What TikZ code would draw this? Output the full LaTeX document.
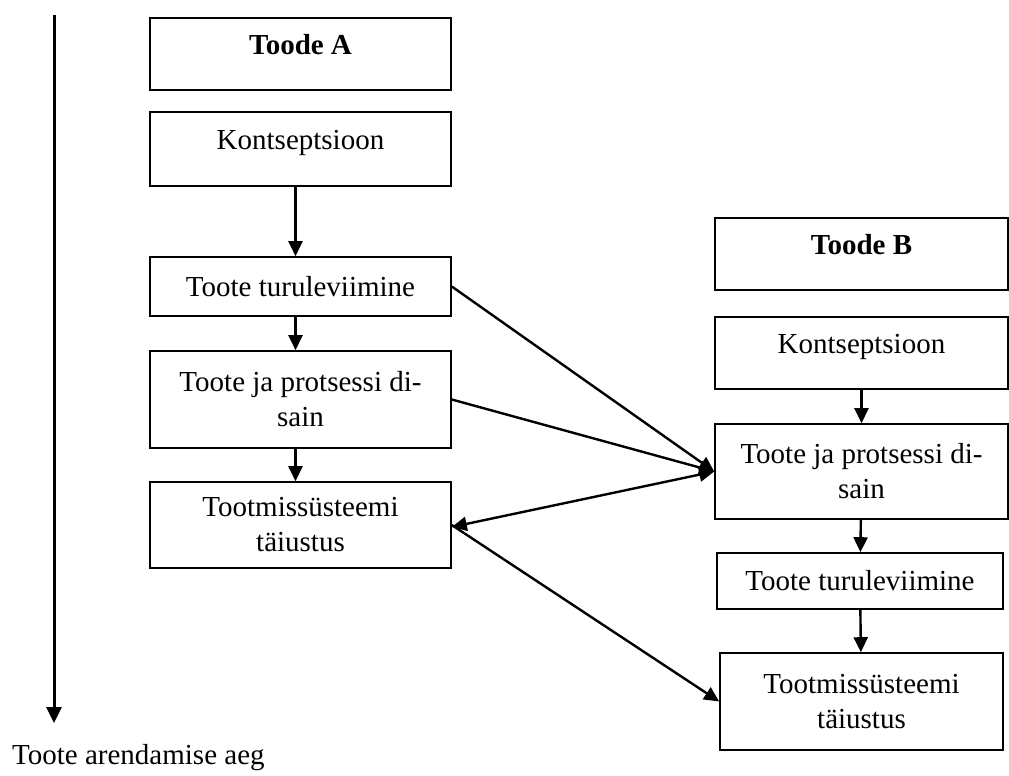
\documentclass[tikz,border=0pt]{standalone}
\usepackage{fontspec}
\setmainfont{Liberation Serif}
\usetikzlibrary{arrows.meta}

\begin{document}
\begin{tikzpicture}[x=1pt,y=-1pt,
  box/.style={draw,line width=1.6pt,minimum width=301pt,inner sep=0pt,
    align=center,font=\fontsize{29}{35}\selectfont},
  upper/.style={text height=20pt,text depth=19pt},
  link/.style={line width=2.4pt,-{Triangle[length=15pt,width=14pt]}}]
  \useasboundingbox (0,0) rectangle (1009,776);

  % time axis
  \coordinate (t0) at (54,15);
  \coordinate (t1) at (54,723);
  \draw[line width=3pt,-{Triangle[length=16pt,width=15pt]}] (t0) -- (t1);
  \node[anchor=west,inner sep=0pt,font=\fontsize{29}{35}\selectfont] (aeg) at (12,758) {Toote arendamise aeg};

  % Toode A
  \node[box,upper,minimum height=72pt] (tA) at (300.5,54) {\textbf{Toode A}};
  \node[box,upper,minimum height=74pt] (kA) at (300.5,149) {Kontseptsioon};
  \node[box,minimum height=59pt] (tuA) at (300.5,286.5) {Toote turuleviimine};
  \node[box,minimum height=97pt] (dA) at (300.5,399.5) {Toote ja protsessi di-\\sain};
  \node[box,minimum height=86pt] (pA) at (300.5,525) {Tootmissüsteemi\\täiustus};

  % Toode B
  \node[box,upper,minimum width=293pt,minimum height=72pt] (tB) at (861.5,254) {\textbf{Toode B}};
  \node[box,upper,minimum width=293pt,minimum height=72pt] (kB) at (861.5,353) {Kontseptsioon};
  \node[box,minimum width=293pt,minimum height=95pt] (dB) at (861.5,471.5) {Toote ja protsessi di-\\sain};
  \node[box,minimum width=286pt,minimum height=56pt] (tuB) at (860,581) {Toote turuleviimine};
  \node[box,minimum width=283pt,minimum height=97pt] (pB) at (861.5,701.5) {Tootmissüsteemi\\täiustus};

  % within columns
  \draw[link] ([xshift=-5pt]kA.south) -- ([xshift=-5pt]tuA.north);
  \draw[link] ([xshift=-5pt]tuA.south) -- ([xshift=-5pt]dA.north);
  \draw[link] ([xshift=-5pt]dA.south) -- ([xshift=-5pt]pA.north);
  \draw[link] (kB) -- (dB);
  \draw[link] (dB) -- (tuB);
  \draw[link] (tuB) -- (pB);

  % between products
  \draw[link] (tuA.east) -- (dB.west);
  \draw[link] (dA.east) -- (dB.west);
  \draw[link,{Triangle[length=15pt,width=14pt]}-{Triangle[length=15pt,width=14pt]}] ([yshift=-2pt]pA.east) -- (dB.west);
  \draw[link] (pA.east) -- (pB.west);
\end{tikzpicture}
\end{document}
